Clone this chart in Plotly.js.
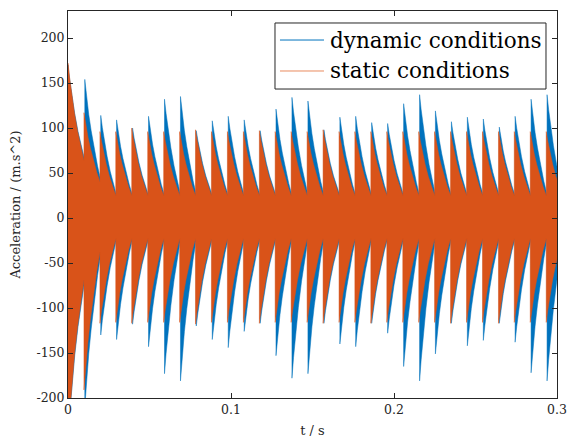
<!DOCTYPE html>
<html><head><meta charset="utf-8">
<script src="https://cdn.plot.ly/plotly-3.0.1.min.js"></script>
<style>html,body{margin:0;padding:0;background:#fff}#chart{width:573px;height:439px}</style>
</head><body><div id="chart"></div>
<script>
// Impact instants (s)
const staticTimes = [0, 0.0098, 0.0196, 0.0293, 0.0391, 0.0489, 0.0587, 0.0685, 0.0782, 0.0880, 0.0978,
  0.1076, 0.1174, 0.1271, 0.1369, 0.1467, 0.1565, 0.1663, 0.1760, 0.1858, 0.1956,
  0.2054, 0.2152, 0.2249, 0.2347, 0.2445, 0.2543, 0.2641, 0.2738, 0.2836, 0.2934];
const dynamicTimes = [0, 0.0103, 0.0201, 0.0298, 0.0396, 0.0494, 0.0592, 0.0690, 0.0787, 0.0885, 0.0983,
  0.1081, 0.1179, 0.1276, 0.1374, 0.1472, 0.1570, 0.1668, 0.1765, 0.1863, 0.1961,
  0.2059, 0.2157, 0.2254, 0.2352, 0.2450, 0.2548, 0.2646, 0.2743, 0.2841, 0.2939];

// Peak accelerations of each impact (m/s^2)
const staticPeakPos = [172, 117, 96, 96, 100, 96, 96, 96, 98, 96, 96, 96, 97, 96, 96, 96,
  98, 96, 96, 96, 96, 96, 96, 96, 96, 96, 96, 96, 96, 96, 96];
const staticPeakNeg = [-240, -191, -117, -116, -117, -116, -116, -116, -118, -116, -116, -116, -117, -116, -116, -116,
  -117, -116, -116, -117, -116, -116, -116, -116, -117, -116, -116, -117, -116, -116, -116];
const dynamicPeakPos = [170, 154, 114, 109, 100, 113, 132, 135, 97, 108, 113, 109, 97, 121, 134, 130,
  98, 112, 113, 106, 105, 127, 137, 119, 107, 112, 110, 101, 113, 132, 137];
const dynamicPeakNeg = [-240, -210, -130, -135, -118, -143, -173, -181, -120, -135, -144, -126, -117, -153, -178, -173,
  -117, -140, -143, -117, -128, -165, -181, -151, -117, -142, -136, -117, -138, -172, -181];

// Residual envelope level just before the following impact
const staticEndPos = [64, 40, 25, 25, 25, 25, 25, 25, 25, 25, 25, 25, 25, 25, 25, 25,
  25, 25, 25, 25, 25, 25, 25, 25, 25, 25, 25, 25, 25, 25, 25];
const staticEndNeg = [-69, -38, -23, -23, -23, -23, -23, -23, -23, -23, -23, -23, -23, -23, -23, -23,
  -23, -23, -23, -23, -23, -23, -23, -23, -23, -23, -23, -23, -23, -23, -23];
const dynamicEndPos = [64, 42, 25, 25, 25, 25, 26, 26, 25, 25, 25, 25, 25, 25, 26, 26,
  25, 25, 25, 25, 25, 25, 26, 25, 25, 25, 25, 25, 25, 26, 26];
const dynamicEndNeg = [-69, -40, -23, -23, -23, -23, -24, -24, -23, -23, -23, -23, -23, -23, -24, -24,
  -23, -23, -23, -23, -23, -24, -24, -23, -23, -23, -23, -23, -23, -24, -24];

// Decay of the envelope inside one impact interval (read from the fins)
const decayFrac = [0, 0.1, 0.25, 0.4, 0.6, 0.8, 1];
const decayLevel = [1, 0.85, 0.65, 0.49, 0.3, 0.14, 0];
const impactPeriod = 0.0098;

const seriesNames = ['dynamic conditions', 'static conditions'];
const seriesColors = ['#0072BD', '#D95319'];
const legendLineColors = ['#0072BD', '#E98A5E'];

function envelope(times, peaks, ends) {
  const xs = [], ys = [];
  for (let k = 0; k < times.length; k++) {
    const t0 = times[k];
    const t1 = k + 1 < times.length ? times[k + 1] : t0 + impactPeriod;
    if (k === 0) { xs.push(t0); ys.push(0); }
    xs.push(t0); ys.push(peaks[k]);
    for (let j = 1; j < decayFrac.length; j++) {
      xs.push(t0 + (t1 - t0) * decayFrac[j]);
      ys.push(ends[k] + (peaks[k] - ends[k]) * decayLevel[j]);
    }
  }
  return { xs, ys };
}

function band(times, pPos, pNeg, ePos, eNeg, color) {
  const up = envelope(times, pPos, ePos);
  const lo = envelope(times, pNeg, eNeg);
  const x = up.xs.concat(lo.xs.slice().reverse());
  const y = up.ys.concat(lo.ys.slice().reverse());
  return { x, y, type: 'scatter', mode: 'lines', fill: 'toself', fillcolor: color,
    line: { color: color, width: 0.5 }, showlegend: false, hoverinfo: 'skip' };
}

const traces = [
  band(dynamicTimes, dynamicPeakPos, dynamicPeakNeg, dynamicEndPos, dynamicEndNeg, seriesColors[0]),
  band(staticTimes, staticPeakPos, staticPeakNeg, staticEndPos, staticEndNeg, seriesColors[1])
];

const yTicks = [-200, -150, -100, -50, 0, 50, 100, 150, 200];
const yTickText = ['-200', '-150', '-100', '-50', '0', '50', '100', '150', '200'];
const xTicks = [0, 0.1, 0.2, 0.3];
const xTickText = ['0', '0.1', '0.2', '0.3'];

const axisColor = '#262626';
const serifFont = 'DejaVu Serif';

// Legend box drawn in paper coordinates
const legendBox = { x0: 0.4233, x1: 0.9775, y0: 0.7984, y1: 0.969 };
const legendRows = [0.925, 0.845];
const shapes = [
  { type: 'rect', xref: 'paper', yref: 'paper', x0: legendBox.x0, x1: legendBox.x1, y0: legendBox.y0, y1: legendBox.y1,
    line: { color: axisColor, width: 1 }, fillcolor: '#fff', layer: 'above' }
];
const annotations = [];
seriesNames.forEach((name, i) => {
  shapes.push({ type: 'line', xref: 'paper', yref: 'paper', x0: 0.4335, x1: 0.5235, y0: legendRows[i], y1: legendRows[i],
    line: { color: legendLineColors[i], width: 1 }, layer: 'above' });
  annotations.push({ xref: 'paper', yref: 'paper', x: 0.5317, y: legendRows[i], xanchor: 'left', yanchor: 'middle',
    text: name, showarrow: false, font: { family: serifFont, size: 21.5, color: '#000' } });
});

const layout = {
  width: 573, height: 439,
  margin: { l: 68, r: 16, t: 11, b: 41 },
  paper_bgcolor: '#fff', plot_bgcolor: '#fff',
  font: { family: serifFont, size: 12.5, color: axisColor },
  showlegend: false,
  xaxis: {
    range: [0, 0.3], tickvals: xTicks, ticktext: xTickText,
    ticks: 'inside', ticklen: 5, tickcolor: axisColor, tickwidth: 1,
    showline: true, linecolor: axisColor, linewidth: 1, mirror: 'ticks',
    showgrid: false, zeroline: false,
    tickfont: { family: serifFont, size: 12.5 },
    title: { text: 't / s', font: { family: serifFont, size: 13 }, standoff: 9 }
  },
  yaxis: {
    range: [-200, 230], tickvals: yTicks, ticktext: yTickText,
    ticks: 'inside', ticklen: 5, tickcolor: axisColor, tickwidth: 1,
    showline: true, linecolor: axisColor, linewidth: 1, mirror: 'ticks',
    showgrid: false, zeroline: false,
    tickfont: { family: serifFont, size: 12.5 },
    title: { text: 'Acceleration / (m.s^2)', font: { family: serifFont, size: 13 }, standoff: 12 }
  },
  shapes: shapes,
  annotations: annotations
};

Plotly.newPlot('chart', traces, layout, { displayModeBar: false, staticPlot: true });
</script>
</body></html>
